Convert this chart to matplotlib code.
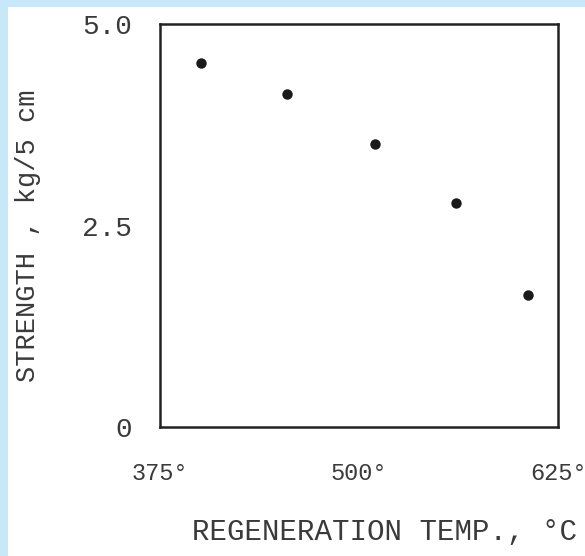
import matplotlib.pyplot as plt
from matplotlib.patches import Rectangle

# values
temps = [401, 455, 510, 561, 606]
strength = [4.52, 4.13, 3.51, 2.78, 1.64]
x_ticks = [375, 500, 625]
x_labels = ['375°', '500°', '625°']
y_ticks = [0, 2.5, 5.0]
y_labels = ['0', '2.5', '5.0']

ink = '#3a3a3a'
plt.rcParams['font.family'] = ['Liberation Mono', 'DejaVu Sans Mono']

fig = plt.figure(figsize=(5.85, 5.56), dpi=100, facecolor='#c6e8f9')
# white page area (blue strip only on the top and left)
fig.patches.append(Rectangle((8 / 585, 0), 1, (556 - 7) / 556,
                             transform=fig.transFigure, facecolor='white',
                             edgecolor='none', zorder=-1))

ax = fig.add_axes([160 / 585, (556 - 427) / 556, 398 / 585, 403 / 556])
ax.set_facecolor('white')

ax.plot(temps, strength, 'o', color='#1a1a1a', markersize=7.5, markeredgewidth=0)

ax.set_xlim(375, 625)
ax.set_ylim(0, 5.0)

ax.set_xticks(x_ticks)
ax.set_xticklabels(x_labels)
ax.set_yticks(y_ticks)
ax.set_yticklabels(y_labels)
ax.tick_params(axis='both', which='major', length=0, colors=ink)
ax.tick_params(axis='x', which='major', pad=25, labelsize=17)
ax.tick_params(axis='y', which='major', pad=20, labelsize=20)

# only the middle ticks are drawn on the original
ax.set_xticks([500], minor=True)
ax.set_yticks([2.5], minor=True)
ax.tick_params(which='minor', direction='in', length=8, width=1.6, color='#222222')

for s in ax.spines.values():
    s.set_linewidth(1.8)
    s.set_color('#222222')

ax.set_xlabel('REGENERATION TEMP., °C', fontsize=21, color=ink)
ax.xaxis.set_label_coords(0.565, -0.225)
ax.set_ylabel('STRENGTH , kg/5 cm', fontsize=19.5, color=ink)
ax.yaxis.set_label_coords(-0.30, 0.475)

fig.savefig('out.png', dpi=100, facecolor=fig.get_facecolor())
